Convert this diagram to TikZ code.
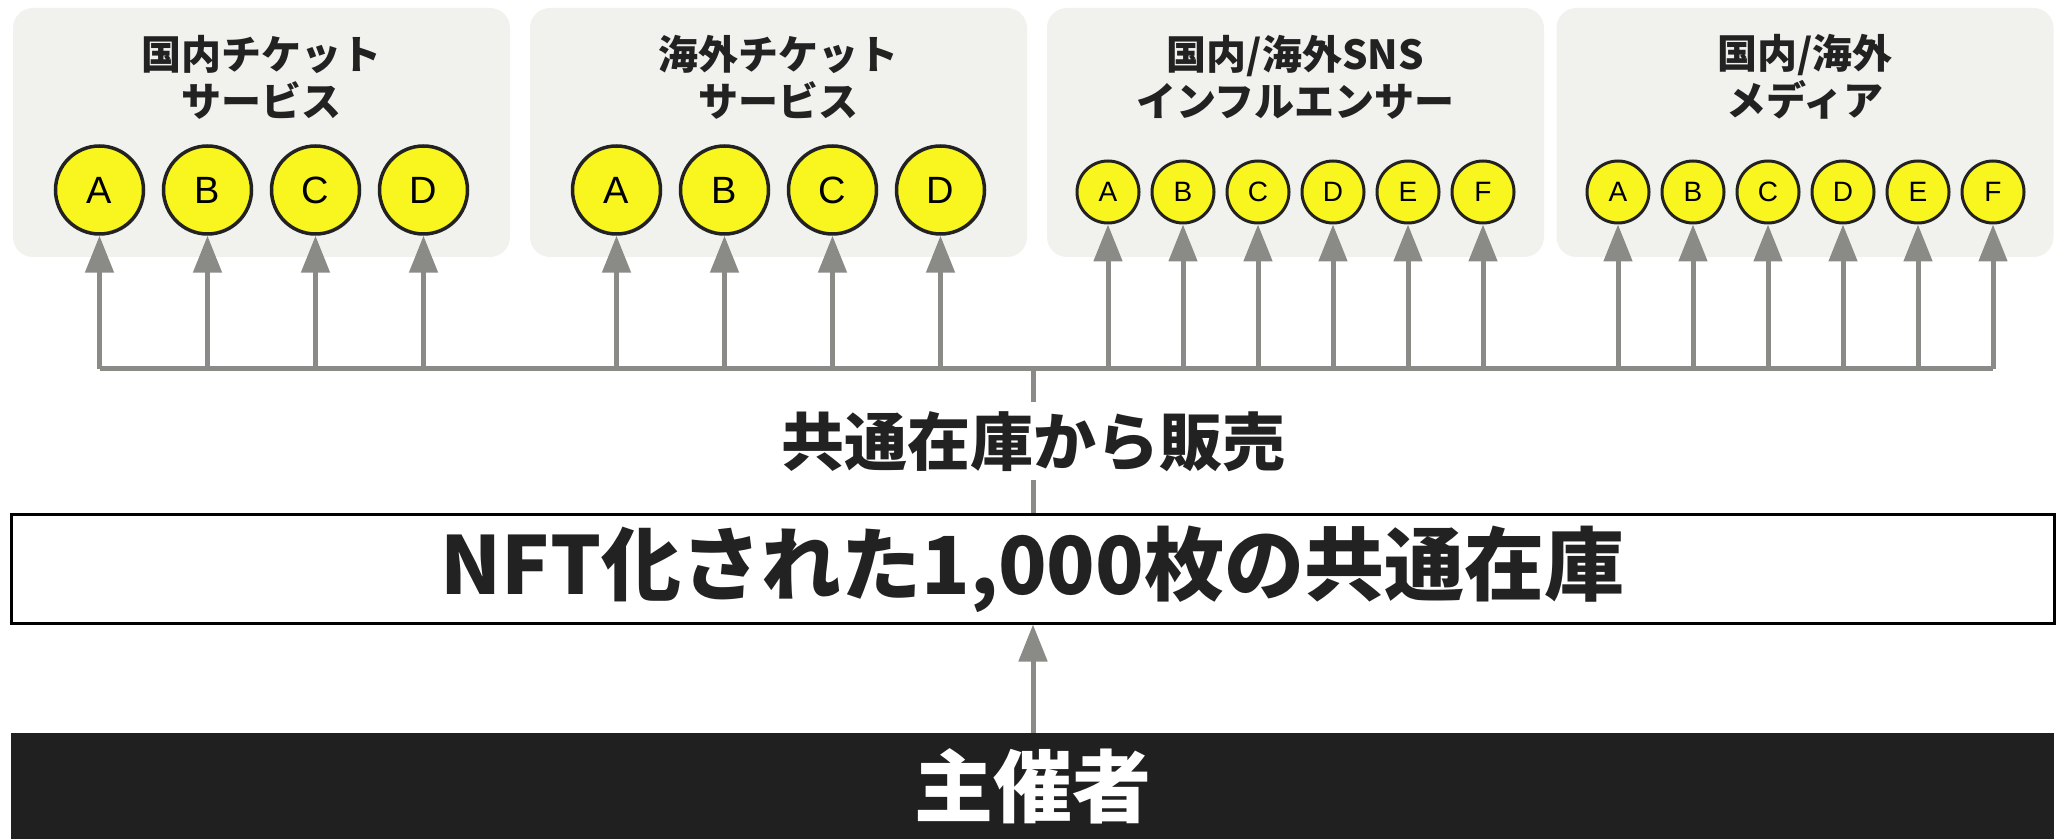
\documentclass[tikz,border=0pt]{standalone}
\usepackage{fontspec}
\setmainfont{Noto Sans CJK JP}
\newfontfamily\letterfont{Liberation Sans}
\usetikzlibrary{arrows.meta}

\definecolor{panelgray}{HTML}{F1F1ED}
\definecolor{chipyellow}{HTML}{F9F51F}
\definecolor{linegray}{HTML}{8A8A86}
\definecolor{inkblack}{HTML}{222222}
\definecolor{hostblack}{HTML}{202020}

\tikzstyle{panel} = [fill=panelgray, rounded corners=10pt, minimum width=248.5pt, minimum height=124.5pt]
\tikzstyle{title} = [text=inkblack, font=\bfseries\fontsize{20}{23.5}\selectfont, align=center]
\tikzstyle{bigchip} = [circle, draw=inkblack, line width=1.75pt, fill=chipyellow, minimum size=44pt, inner sep=0pt, font=\letterfont\fontsize{19}{19}\selectfont]
\tikzstyle{smallchip} = [circle, draw=inkblack, line width=1.5pt, fill=chipyellow, minimum size=31pt, inner sep=0pt, font=\letterfont\fontsize{14}{14}\selectfont]
\tikzstyle{feed} = [draw=linegray, line width=2.5pt, -{Triangle[length=18.5pt,width=14pt]}]
\tikzstyle{busline} = [draw=linegray, line width=2.5pt]
\tikzstyle{band} = [minimum width=1021.5pt, minimum height=54pt, inner sep=0pt]

\begin{document}
\begin{tikzpicture}[x=0.5pt, y=-0.5pt]
\useasboundingbox (0,0) rectangle (2062,839);

\foreach \i/\cx/\txt in {1/261.5/{国内チケット\\サービス}, 2/778.5/{海外チケット\\サービス}, 3/1295.5/{国内/海外SNS\\インフルエンサー}, 4/1805/{国内/海外\\メディア}} {
	\node[panel] (p\i) at (\cx,132.5) {};
	\node[title] (t\i) at (\cx,77) {\txt};
}

\coordinate (bus) at (1033,369);

\foreach \i/\cx in {1/261.5, 2/778.5} {
	\foreach \j/\l in {1/A, 2/B, 3/C, 4/D} {
		\node[bigchip] (c\i\j) at ({\cx+(\j-2.5)*108},190) {\l};
		\draw[feed] (c\i\j |- bus) -- (c\i\j);
	}
}
\foreach \i/\cx in {3/1295.5, 4/1805.5} {
	\foreach \j/\l in {1/A, 2/B, 3/C, 4/D, 5/E, 6/F} {
		\node[smallchip] (c\i\j) at ({\cx+(\j-3.5)*75},192) {\l};
		\draw[feed] (c\i\j |- bus) -- (c\i\j);
	}
}
\draw[busline] (c11 |- bus) -- (c46 |- bus);

\node[band, draw=black, line width=1.5pt, fill=white, text=inkblack, font=\bfseries\fontsize{40}{40}\selectfont] (stock) at (1032.5,569) {NFT化された1,000枚の共通在庫};
\node[band, minimum height=53pt, fill=hostblack, text=white, font=\bfseries\fontsize{39.5}{39.5}\selectfont] (host) at (1032.5,786) {主催者};

\draw[busline] (stock.north -| bus) -- node[fill=white, minimum height=39pt, inner sep=0pt, text=inkblack, font=\bfseries\fontsize{31.5}{31.5}\selectfont] (sale) {共通在庫から販売} (bus);
\draw[feed] (host.north -| bus) -- (stock.south -| bus);
\end{tikzpicture}
\end{document}
